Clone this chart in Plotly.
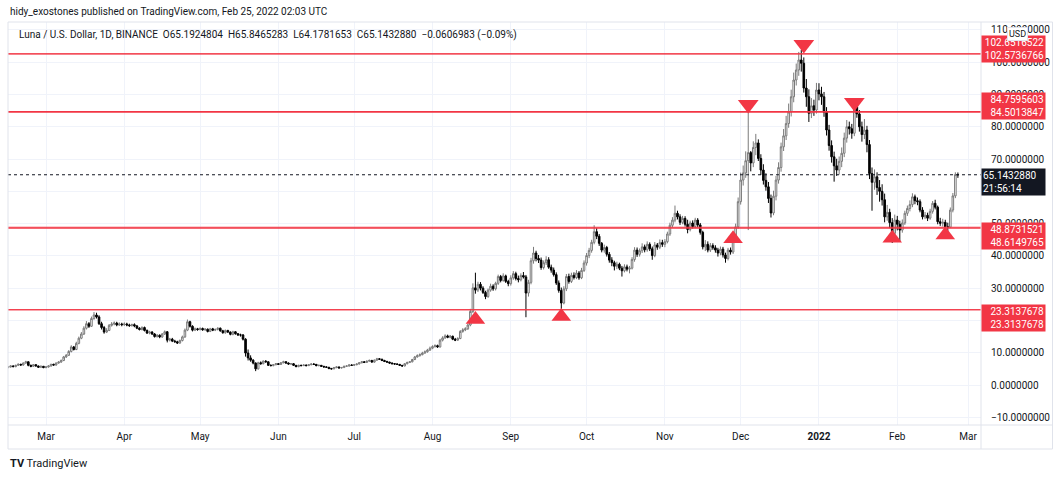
import pandas as pd
import plotly.graph_objects as go

# ---------------- data (daily LUNA/USD, Binance) ----------------
dates = pd.date_range("2021-02-14", "2022-02-25", freq="D")
first_open = 5.4

close_feb21 = [5.6, 5.9, 5.7, 6.1, 6.4, 6.2, 6.8, 7.2, 6.1, 5.8, 6.3, 5.9, 5.5, 5.8, 5.4]
high_feb21 = [5.8, 6.1, 6.1, 6.3, 6.7, 6.6, 7.0, 7.5, 7.3, 6.3, 6.5, 6.4, 6.0, 6.0, 5.9]
low_feb21 = [5.2, 5.4, 5.5, 5.5, 5.9, 6.0, 6.0, 6.6, 5.8, 5.5, 5.6, 5.7, 5.3, 5.3, 5.2]

close_mar21 = [5.6, 5.9, 6.4, 6.2, 6.8, 7.1, 7.6, 8.7, 9.2, 10.4, 11.8, 11.0, 12.9, 14.5, 15.8, 17.6,
               19.0, 18.2, 20.6, 21.7, 21.1, 19.0, 17.8, 16.4, 16.9, 18.5, 18.9, 19.2, 18.6, 18.9, 18.7]
high_mar21 = [5.8, 6.1, 6.6, 6.6, 7.0, 7.4, 7.9, 9.0, 9.6, 10.8, 12.3, 12.1, 13.4, 15.0, 16.4, 18.2,
              19.8, 19.5, 21.2, 22.6, 22.4, 21.6, 19.6, 18.3, 17.6, 18.9, 19.5, 19.7, 19.6, 19.4, 19.3]
low_mar21 = [5.2, 5.4, 5.7, 6.0, 6.0, 6.6, 6.9, 7.4, 8.4, 9.0, 10.1, 10.7, 10.8, 12.6, 14.2, 15.5,
             17.2, 17.7, 18.0, 20.2, 20.6, 18.6, 17.2, 15.9, 16.1, 16.7, 18.1, 18.5, 18.2, 18.3, 18.2]

close_apr21 = [18.9, 18.6, 18.4, 18.7, 18.3, 17.6, 17.2, 17.8, 16.9, 16.1, 16.4, 15.8, 15.0, 15.4, 14.9,
               15.8, 16.5, 13.9, 14.2, 13.6, 13.4, 13.0, 13.8, 14.9, 17.0, 19.6, 18.2, 17.0, 17.4, 17.2]
high_apr21 = [19.4, 19.3, 19.0, 19.0, 19.1, 18.6, 17.9, 18.2, 18.1, 17.2, 16.8, 16.7, 16.1, 15.8, 15.7,
              16.1, 16.9, 16.7, 14.6, 14.6, 14.0, 13.7, 14.1, 15.3, 17.5, 20.3, 19.9, 18.5, 17.8, 17.7]
low_apr21 = [18.3, 18.2, 18.0, 18.1, 17.9, 17.3, 16.9, 16.9, 16.6, 15.8, 15.7, 15.5, 14.7, 14.7, 14.5,
             14.6, 15.5, 13.2, 13.5, 13.3, 13.1, 12.7, 12.8, 13.5, 14.6, 16.7, 17.8, 16.6, 16.7, 16.8]

close_may21 = [17.5, 17.1, 17.3, 16.6, 17.4, 17.0, 17.2, 17.6, 16.8, 16.2, 16.9, 16.4, 15.7, 16.5, 15.9,
               15.5, 15.5, 14.2, 9.9, 8.4, 7.7, 6.8, 5.0, 6.9, 6.6, 7.4, 7.2, 6.1, 6.0, 6.3, 6.6]
high_may21 = [17.9, 17.8, 17.6, 17.5, 17.7, 17.7, 17.5, 17.9, 17.8, 17.1, 17.2, 17.1, 16.6, 16.8, 16.7,
              16.1, 15.9, 15.8, 14.5, 11.0, 9.2, 8.0, 7.0, 7.2, 7.3, 7.6, 7.7, 7.3, 6.4, 6.5, 6.8]
low_may21 = [16.9, 16.8, 16.8, 16.3, 16.4, 16.7, 16.7, 16.9, 16.5, 15.9, 15.9, 16.1, 15.4, 15.4, 15.6,
             15.2, 15.0, 13.8, 8.8, 7.6, 7.2, 6.4, 4.3, 4.8, 6.3, 6.4, 6.9, 5.9, 5.8, 5.8, 6.1]

close_jun21 = [6.4, 6.9, 7.2, 6.8, 6.5, 6.6, 6.1, 5.7, 6.1, 6.0, 6.2, 6.0, 6.3, 6.5, 6.4,
               6.0, 6.1, 5.8, 5.6, 5.5, 5.1, 5.0, 5.4, 5.6, 5.3, 5.4, 5.8, 5.9, 6.2, 6.1]
high_jun21 = [6.8, 7.1, 7.5, 7.4, 7.0, 6.8, 6.8, 6.2, 6.3, 6.3, 6.4, 6.3, 6.5, 6.7, 6.7,
              6.5, 6.3, 6.2, 5.9, 5.8, 5.6, 5.3, 5.6, 5.8, 5.7, 5.6, 6.0, 6.1, 6.4, 6.4]
low_jun21 = [6.2, 6.2, 6.7, 6.6, 6.3, 6.3, 5.9, 5.5, 5.5, 5.8, 5.9, 5.8, 5.9, 6.1, 6.2,
             5.8, 5.8, 5.6, 5.4, 5.3, 4.9, 4.8, 4.9, 5.2, 5.1, 5.1, 5.3, 5.6, 5.7, 5.9]

close_jul21 = [6.3, 6.5, 6.9, 7.2, 7.0, 7.4, 7.6, 7.1, 7.7, 8.1, 8.0, 7.6, 7.3, 7.1, 6.8, 6.6,
               6.5, 6.4, 6.1, 5.9, 6.6, 7.0, 7.2, 7.9, 8.7, 9.1, 9.4, 9.9, 10.3, 10.8, 11.4]
high_jul21 = [6.5, 6.7, 7.1, 7.4, 7.4, 7.6, 7.9, 7.8, 7.9, 8.4, 8.3, 8.1, 7.8, 7.5, 7.2, 7.0,
              6.8, 6.7, 6.5, 6.2, 6.8, 7.2, 7.4, 8.1, 9.0, 9.5, 9.8, 10.3, 10.7, 11.2, 11.9]
low_jul21 = [5.9, 6.1, 6.4, 6.7, 6.8, 6.9, 7.2, 6.9, 6.9, 7.5, 7.8, 7.4, 7.1, 6.9, 6.6, 6.4,
             6.3, 6.2, 5.9, 5.7, 5.8, 6.4, 6.8, 7.0, 7.7, 8.5, 8.8, 9.2, 9.7, 10.0, 10.6]

close_aug21 = [11.9, 12.2, 11.8, 13.9, 14.6, 15.2, 14.8, 15.1, 14.2, 13.9, 14.4, 16.6, 17.1, 17.4, 18.6,
               22.8, 30.1, 29.4, 31.2, 30.0, 28.7, 27.4, 29.4, 30.6, 29.8, 31.5, 33.6, 32.4, 33.8, 32.1, 31.4]
high_aug21 = [12.3, 12.6, 12.5, 14.3, 15.1, 15.7, 15.6, 15.5, 15.3, 14.6, 14.8, 17.0, 17.6, 17.9, 19.0,
              23.6, 31.5, 34.8, 32.0, 31.9, 30.6, 29.2, 29.9, 31.4, 31.2, 32.0, 34.2, 34.1, 34.6, 34.2, 32.6]
low_aug21 = [11.1, 11.6, 11.5, 11.6, 13.5, 14.3, 14.5, 14.5, 13.9, 13.6, 13.7, 14.2, 16.2, 16.7, 17.1,
             18.2, 22.3, 28.3, 28.8, 29.3, 28.2, 26.6, 27.0, 28.9, 29.2, 29.3, 31.0, 31.8, 32.0, 31.6, 30.6]

close_sep21 = [33.2, 34.5, 33.0, 32.6, 33.9, 33.5, 28.5, 31.8, 38.5, 40.9, 39.2, 38.7, 36.4, 37.9, 38.8,
               36.5, 35.6, 34.2, 31.6, 29.3, 25.4, 29.8, 33.6, 32.1, 34.0, 33.3, 34.7, 33.2, 35.5, 37.8]
high_sep21 = [34.0, 35.3, 35.1, 33.9, 34.6, 35.0, 34.1, 32.6, 39.4, 42.8, 41.6, 40.3, 39.5, 38.6, 39.9,
              39.6, 37.3, 36.4, 34.9, 32.4, 30.2, 30.6, 34.4, 34.5, 34.8, 34.9, 35.6, 35.3, 36.3, 38.6]
low_sep21 = [30.8, 32.6, 32.4, 31.8, 32.1, 33.0, 21.0, 27.4, 31.2, 37.6, 38.3, 37.8, 35.7, 35.8, 37.2,
             36.0, 34.8, 33.6, 31.0, 28.6, 23.6, 25.0, 29.1, 31.4, 31.6, 32.7, 32.8, 32.6, 32.8, 35.0]

close_oct21 = [40.1, 41.7, 44.2, 47.5, 46.1, 43.9, 41.8, 42.6, 40.5, 38.7, 37.9, 36.8, 37.4, 36.2, 35.4, 36.6,
               35.9, 36.2, 38.9, 41.8, 40.5, 41.6, 42.8, 41.9, 43.6, 42.2, 40.1, 43.4, 42.7, 44.1, 43.6]
high_oct21 = [40.9, 42.5, 45.0, 49.5, 48.6, 46.8, 44.3, 43.5, 43.1, 41.2, 39.6, 38.5, 38.2, 37.9, 36.9, 37.4,
              37.3, 36.9, 39.6, 42.7, 42.6, 42.3, 43.9, 43.5, 44.5, 44.2, 42.9, 44.3, 44.0, 45.1, 45.0]
low_oct21 = [37.0, 39.3, 41.0, 43.6, 45.2, 43.1, 41.1, 41.0, 39.8, 37.9, 36.8, 35.5, 35.9, 35.6, 33.6, 34.9,
             35.2, 34.6, 35.8, 38.2, 39.7, 39.8, 40.9, 41.1, 41.3, 41.5, 38.8, 39.6, 41.9, 42.1, 42.8]

close_nov21 = [44.4, 46.8, 49.5, 51.1, 53.2, 52.1, 50.4, 51.6, 49.8, 48.2, 50.2, 49.1, 51.1, 49.6, 47.3,
               42.8, 43.6, 41.8, 43.2, 42.5, 41.8, 40.9, 42.1, 40.3, 39.2, 41.8, 41.2, 44.6, 49.0, 56.8]
high_nov21 = [45.2, 47.5, 50.3, 52.0, 55.6, 54.0, 52.9, 52.4, 52.3, 51.2, 50.9, 51.0, 51.8, 51.7, 50.2,
              47.8, 44.9, 44.5, 44.0, 43.9, 43.3, 42.5, 42.9, 42.8, 41.0, 42.5, 42.6, 45.3, 50.0, 58.1]
low_nov21 = [42.7, 43.9, 46.2, 48.8, 50.4, 51.3, 49.6, 49.8, 49.1, 47.0, 47.6, 48.5, 48.6, 48.9, 46.6,
             42.0, 41.5, 41.1, 41.2, 41.9, 41.0, 39.8, 40.2, 39.5, 37.9, 38.6, 40.4, 40.6, 44.0, 48.4]

close_dec21 = [63.5, 65.7, 69.5, 72.0, 68.8, 73.6, 75.0, 70.2, 66.6, 63.4, 61.4, 57.8, 53.3, 58.5, 63.5, 67.4,
               73.8, 77.2, 81.0, 84.6, 89.3, 94.5, 97.6, 100.7, 99.7, 92.0, 89.3, 84.2, 86.5, 85.2, 91.4]
high_dec21 = [65.8, 68.0, 72.4, 84.3, 72.5, 75.5, 77.8, 76.1, 71.5, 68.4, 65.6, 62.9, 59.0, 60.2, 64.8, 69.0,
              75.1, 79.3, 83.4, 87.2, 91.5, 96.8, 99.6, 103.2, 103.8, 101.5, 94.8, 91.6, 88.9, 88.4, 93.6]
low_dec21 = [55.9, 61.8, 64.2, 48.0, 66.2, 67.5, 71.2, 69.4, 65.1, 62.1, 60.2, 56.4, 51.9, 52.6, 57.2, 62.4,
             66.1, 72.5, 75.9, 79.7, 83.2, 87.6, 92.8, 95.8, 97.1, 90.6, 86.2, 81.5, 82.7, 83.4, 84.1]

close_jan22 = [90.2, 89.3, 84.5, 79.0, 74.2, 70.7, 67.9, 66.6, 69.3, 71.8, 76.5, 80.0, 79.4, 78.0, 86.2, 84.0,
               80.0, 77.6, 79.0, 74.5, 65.5, 62.8, 64.5, 61.2, 60.0, 57.4, 52.1, 53.5, 50.3, 47.0, 51.1]
high_jan22 = [93.5, 92.4, 90.8, 86.1, 80.6, 75.8, 72.3, 70.1, 70.8, 73.6, 78.2, 82.1, 81.6, 80.9, 87.9, 88.6,
              85.2, 81.6, 82.4, 80.3, 75.9, 67.4, 66.8, 65.9, 63.5, 62.2, 59.3, 55.8, 54.6, 51.7, 52.8]
low_jan22 = [88.2, 86.8, 83.1, 77.3, 72.6, 68.9, 63.0, 64.8, 65.2, 67.5, 70.6, 75.1, 77.6, 76.3, 77.1, 82.8,
             78.5, 75.4, 76.2, 72.1, 63.8, 54.0, 60.5, 58.9, 56.8, 55.6, 50.4, 50.9, 48.6, 44.0, 46.2]

close_feb22 = [49.8, 48.0, 50.2, 53.2, 54.7, 55.9, 58.3, 57.1, 56.8, 54.2, 52.1, 52.6, 51.7, 53.8, 56.3,
               55.1, 50.6, 50.1, 50.4, 49.0, 48.9, 54.2, 58.6, 65.1924804, 65.1432880]
high_feb22 = [52.4, 50.9, 51.3, 54.0, 55.6, 57.2, 59.4, 59.0, 58.1, 57.5, 55.1, 53.6, 53.4, 54.6, 57.0,
              57.4, 55.6, 51.8, 51.5, 51.2, 50.3, 55.0, 59.5, 65.9, 65.8465283]
low_feb22 = [47.9, 44.6, 47.2, 49.6, 52.4, 53.8, 55.1, 56.0, 55.7, 53.5, 51.3, 51.4, 50.8, 51.2, 53.1,
             54.4, 49.8, 49.3, 49.1, 48.2, 47.3, 48.6, 53.5, 57.9, 64.1781653]

# horizontal support / resistance levels (pairs) and labels
level_values = [102.6516522, 102.5736766, 84.7595603, 84.5013847,
                48.8731521, 48.6149765, 23.3137678, 23.3137678]
label_pairs = [("102.6516522", "102.5736766"), ("84.7595603", "84.5013847"),
               ("48.8731521", "48.6149765"), ("23.3137678", "23.3137678")]
last_price = 65.1432880
countdown = "21:56:14"

# triangle markers
top_dates = ["2021-12-04", "2021-12-26", "2022-01-15"]
top_prices = [86.9, 105.5, 87.5]
bottom_dates = ["2021-08-18", "2021-09-21", "2021-11-28", "2022-01-30", "2022-02-20"]
bottom_prices = [20.3, 21.2, 45.3, 45.5, 46.5]

# axis ticks
tick_dates = ["2021-03-01", "2021-04-01", "2021-05-01", "2021-06-01", "2021-07-01", "2021-08-01",
              "2021-09-01", "2021-10-01", "2021-11-01", "2021-12-01", "2022-01-01", "2022-02-01",
              "2022-03-01"]
tick_text = ["Mar", "Apr", "May", "Jun", "Jul", "Aug", "Sep", "Oct", "Nov", "Dec",
             "<b>2022</b>", "Feb", "Mar"]

# ---------------- assemble ----------------
closes = (close_feb21 + close_mar21 + close_apr21 + close_may21 + close_jun21 + close_jul21 +
          close_aug21 + close_sep21 + close_oct21 + close_nov21 + close_dec21 + close_jan22 + close_feb22)
highs = (high_feb21 + high_mar21 + high_apr21 + high_may21 + high_jun21 + high_jul21 +
         high_aug21 + high_sep21 + high_oct21 + high_nov21 + high_dec21 + high_jan22 + high_feb22)
lows = (low_feb21 + low_mar21 + low_apr21 + low_may21 + low_jun21 + low_jul21 +
        low_aug21 + low_sep21 + low_oct21 + low_nov21 + low_dec21 + low_jan22 + low_feb22)
opens = [first_open] + closes[:-1]
highs = [max(h, o, c) for h, o, c in zip(highs, opens, closes)]
lows = [min(l, o, c) for l, o, c in zip(lows, opens, closes)]
assert len(closes) == len(highs) == len(lows) == len(dates)

RED = "#f23645"
INK = "#131722"
GRID = "#f0f3fa"
BORDER = "#e0e3eb"
FONT = "Roboto, 'Open Sans', sans-serif"

fig = go.Figure()
fig.add_trace(go.Candlestick(
    x=dates, open=opens, high=highs, low=lows, close=closes,
    increasing=dict(line=dict(color="#7a7a7a", width=1), fillcolor="#ffffff"),
    decreasing=dict(line=dict(color="#000000", width=1), fillcolor="#000000"),
    whiskerwidth=0, hoverinfo="skip", showlegend=False,
))
fig.add_trace(go.Scatter(
    x=top_dates, y=top_prices, mode="markers",
    marker=dict(symbol="triangle-down", size=18, color=RED, line=dict(width=0)),
    hoverinfo="skip", showlegend=False,
))
fig.add_trace(go.Scatter(
    x=bottom_dates, y=bottom_prices, mode="markers",
    marker=dict(symbol="triangle-up", size=17, color=RED, line=dict(width=0)),
    hoverinfo="skip", showlegend=False,
))

shapes = []
for v in level_values:
    shapes.append(dict(type="line", xref="paper", yref="y", x0=0, x1=1, y0=v, y1=v,
                       line=dict(color=RED, width=1.1), layer="above"))
shapes.append(dict(type="line", xref="paper", yref="y", x0=0, x1=1, y0=last_price, y1=last_price,
                   line=dict(color=INK, width=1, dash="dot"), layer="above"))
# chart frame
PW, PH = 973.0, 403.0
fx1 = (1052.5 - 8) / PW
fy0 = (425 - 449) / PH
shapes.append(dict(type="rect", xref="paper", yref="paper", x0=0, x1=fx1, y0=fy0, y1=1,
                   line=dict(color=BORDER, width=1), layer="above"))
shapes.append(dict(type="line", xref="paper", yref="paper", x0=1, x1=1, y0=fy0, y1=1,
                   line=dict(color=BORDER, width=1), layer="above"))
shapes.append(dict(type="line", xref="paper", yref="paper", x0=0, x1=fx1, y0=0, y1=0,
                   line=dict(color=BORDER, width=1), layer="above"))

annotations = []
# red level labels (two per box)
pair_values = [(level_values[0] + level_values[1]) / 2, (level_values[2] + level_values[3]) / 2,
               (level_values[4] + level_values[5]) / 2, (level_values[6] + level_values[7]) / 2]
pair_shift = [5, 6, -8, -8]
for (a, b), v, s in zip(label_pairs, pair_values, pair_shift):
    annotations.append(dict(xref="paper", yref="y", x=1.0, y=v, yshift=s, xanchor="left", yanchor="middle",
                            text=a + "<br>" + b, showarrow=False, align="right", width=61,
                            bgcolor=RED, borderpad=1, font=dict(color="white", size=10, family=FONT)))
annotations.append(dict(xref="paper", yref="y", x=1.0, y=last_price, yshift=-7, xanchor="left",
                        yanchor="middle", text=f"{last_price:.7f}<br>{countdown}", showarrow=False,
                        align="left", width=61, bgcolor=INK, borderpad=1,
                        font=dict(color="white", size=10, family=FONT)))
# USD badge
annotations.append(dict(xref="paper", yref="paper", x=(1017 - 8) / PW, y=(425 - 34) / PH,
                        xanchor="center", yanchor="middle", text="USD", showarrow=False,
                        bgcolor="white", bordercolor=BORDER, borderwidth=1, borderpad=1,
                        font=dict(color=INK, size=9, family=FONT)))
# header and legend
annotations.append(dict(xref="paper", yref="paper", x=0, y=(425 - 12) / PH, xanchor="left",
                        yanchor="middle", showarrow=False,
                        text="hidy_exostones published on TradingView.com, Feb 25, 2022 02:03 UTC",
                        font=dict(color=INK, size=10, family=FONT)))
legend_text = ("Luna / U.S. Dollar, 1D, BINANCE\u00a0\u00a0O65.1924804\u00a0\u00a0H65.8465283"
               "\u00a0\u00a0L64.1781653\u00a0\u00a0C65.1432880\u00a0\u00a0\u22120.0606983 (\u22120.09%)")
annotations.append(dict(xref="paper", yref="paper", x=(17 - 8) / PW, y=(425 - 35) / PH, xanchor="left",
                        yanchor="middle", showarrow=False, text=legend_text,
                        font=dict(color=INK, size=10, family=FONT)))
annotations.append(dict(xref="paper", yref="paper", x=0, y=(425 - 464) / PH, xanchor="left",
                        yanchor="middle", showarrow=False,
                        text="<b>TV</b> TradingView",
                        font=dict(color=INK, size=11, family=FONT)))

fig.update_layout(
    width=1062, height=478,
    margin=dict(l=8, r=81, t=22, b=53),
    paper_bgcolor="white", plot_bgcolor="white",
    showlegend=False, hovermode=False, boxgap=0.1,
    font=dict(family=FONT, size=10, color=INK),
    shapes=shapes, annotations=annotations,
    xaxis=dict(type="date", range=["2021-02-13 23:00", "2022-03-06 03:30"],
               tickvals=tick_dates, ticktext=tick_text, showgrid=True, gridcolor=GRID, gridwidth=1,
               zeroline=False, showline=False, ticks="", ticklabelstandoff=4,
               tickfont=dict(size=10, color=INK, family=FONT),
               rangeslider=dict(visible=False), fixedrange=True),
    yaxis=dict(side="right", range=[-12.39, 112.47], dtick=10, tick0=0, tickformat=".7f",
               showgrid=True, gridcolor=GRID, gridwidth=1, zeroline=False, showline=False,
               ticks="", ticklabelstandoff=9, tickfont=dict(size=10, color=INK, family=FONT),
               fixedrange=True),
)

fig.write_html("out.html")
